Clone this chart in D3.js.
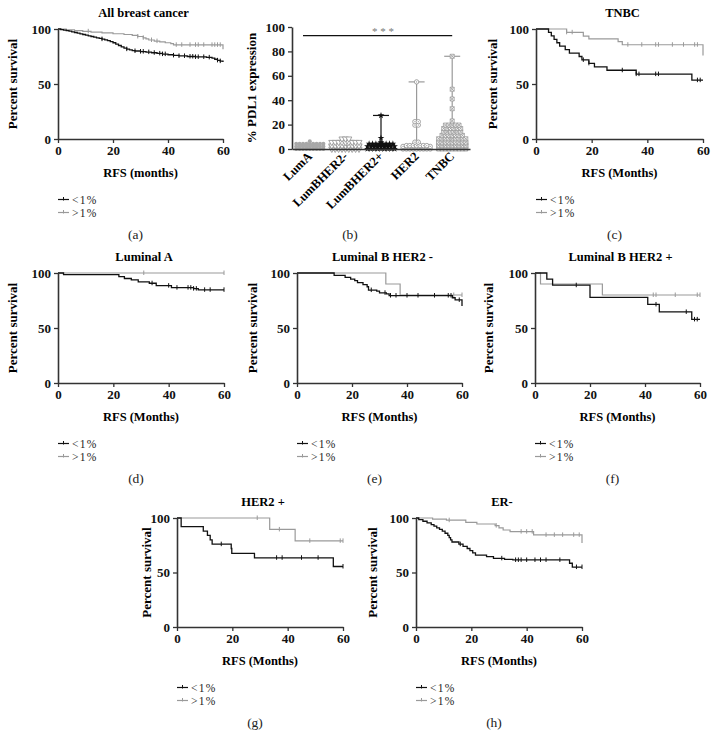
<!DOCTYPE html>
<html><head><meta charset="utf-8">
<script src="https://cdn.jsdelivr.net/npm/d3@7"></script>
<style>
body{margin:0;background:#fff}
svg{display:block}
text{font-family:"Liberation Serif","Times New Roman",serif}
</style>
</head><body>
<svg id="c" width="716" height="750"></svg>
<script>
// ---------------- DATA ----------------
const kmTicksX = [0, 20, 40, 60];
const kmTicksY = [0, 50, 100];
const legendLabels = ["<1%", ">1%"];
const panelLetters = ["(a)", "(b)", "(c)", "(d)", "(e)", "(f)", "(g)", "(h)"];
const kmTitles = ["All breast cancer", "TNBC", "Luminal A", "Luminal B HER2 -", "Luminal B HER2 +", "HER2 +", "ER-"];
const kmXLabels = ["RFS (months)", "RFS (Months)", "RFS (Months)", "RFS (Months)", "RFS (Months)", "RFS (Months)", "RFS (Months)"];

// Kaplan-Meier steps [month, % survival]
const allLow = [[0,100],[1,99.5],[2,99],[3,98.5],[4,98],[5,97.4],[6,96.8],[7,96.2],[8,95.6],[9,95],[10,94.4],[11,93.8],[12,93.2],[13,92.6],[14,92],[15,91.4],[16,90.8],[17,90.2],[18,89.5],[19,88.6],[20,87.5],[21,86.3],[22,85],[23,83.8],[24,82.7],[25,81.7],[26,81],[27,80.4],[28,80],[30,79.5],[32,79],[34,78.4],[36,77.8],[38,77.2],[40,76.6],[42,76],[44,75.5],[47,75],[50,74.6],[54,74.2],[56,73.5],[57,72.5],[58,71.5],[59,70.8],[60,70]];
const allHigh = [[0,100],[3,99.3],[6,98.6],[9,97.9],[12,97.2],[16,96.5],[20,95.7],[24,95],[27,94.2],[29,93.2],[31,92],[32,91],[33,90],[35,89],[37,88.3],[39,87.5],[41,86.7],[42,85.6],[60,81.5]];
const allLowCens = [16,25,28,30,31,33,35,37,38,39,42,44,46,48,49,50,51,53,55,58,59];
const allHighCens = [11,29,31,34,36,43,45,48,50,51,53,56,57,58,59];

const tnbcLow = [[0,100],[4.5,96.9],[5.5,93.8],[6.5,90.6],[7.5,87.5],[8.5,84.4],[10.5,81.3],[12,78.1],[15.5,75],[16.5,71.9],[19,68.8],[21,65.6],[25.5,62.5],[36,59],[56,53.5],[60,53.5]];
const tnbcHigh = [[0,100],[11,97],[17,93.5],[19,91],[29.5,88.5],[31,85.7],[60,76]];
const tnbcLowCens = [17,19,31,36,37,43,44,58,59];
const tnbcHighCens = [11,13,33,38,43,44,49,53,57,58];

const lumALow = [[0,100],[2,98.6],[22,96.7],[24,95],[26.5,93.7],[29,92],[33,90.7],[35.5,88.5],[41,86.7],[49,85.8],[50.7,84.7],[60,84.7]];
const lumAHigh = [[0,100],[60,100]];
const lumALowCens = [34,40,43,47,48,49,50,53,55,60];
const lumAHighCens = [31,60];

const lumBnLow = [[0,100],[13.5,97.8],[17.5,96],[19.5,94.5],[21,93],[22,91.3],[24,89.5],[25.5,87.5],[26,84.5],[29,83.5],[30,82],[32.5,81],[33.5,79.5],[56.5,77.5],[57.5,75.5],[60,70]];
const lumBnHigh = [[0,100],[32.3,90],[37.5,80],[60,80]];
const lumBnLowCens = [27,32,34,36,40,44,50,55,56,59];
const lumBnHighCens = [57,60];

const lumBpLow = [[0,100],[4.3,94.4],[6.4,88.9],[20,77.8],[41,71.4],[45.2,64.6],[57,57.8],[60,57.8]];
const lumBpHigh = [[0,100],[2,90],[24.5,80],[60,80]];
const lumBpLowCens = [15,44,55,58,59];
const lumBpHighCens = [43,44,51,59,60];

const her2Low = [[0,100],[1.5,92],[9.5,88],[11,84],[12,80],[12.7,76],[19.6,72],[19.8,67.5],[28,63.5],[56.5,55.5],[60,55.5]];
const her2High = [[0,100],[33.5,89.5],[42.7,79],[60,79]];
const her2LowCens = [16,36,38,45,51,60];
const her2HighCens = [29,37,48,59,60];

const erLow = [[0,100],[1,98.5],[2.5,97],[4,95.5],[5.5,94],[6.5,92.5],[7.5,91],[8.5,89.5],[9.5,88],[10.5,86],[11.5,84],[12,82],[12.5,80],[13,78],[15.5,76],[17,74],[18.5,72],[19.5,70],[20.5,68],[21.5,66],[25.5,64.5],[28,63],[32,62],[35,61.5],[55.5,58.5],[56.5,55],[60,55]];
const erHigh = [[0,100],[6,99],[11,98],[18,96],[22,94.5],[28.6,93],[30,91],[31.5,89],[34,87.5],[42.5,84.5],[60,77]];
const erLowCens = [16,31,36,37,38,40,43,45,47,52,58,60];
const erHighCens = [12,29,38,40,42,47,50,53,57,59];

// PDL1 expression (%) per subtype
const pdlCategories = ["LumA", "LumBHER2-", "LumBHER2+", "HER2", "TNBC"];
const pdlTicks = [0, 20, 40, 60, 80, 100];
const pdlLumA = [0,0,0,0,0,0,0,0,0,0,0,0,0,0,0,0,0,0,0,0,1,1,1,1,1,1,1,1,2,2,2,2,2,2];
const pdlLumBn = [0,0,0,0,0,0,0,0,0,0,0,0,0,0,1,1,1,1,1,1,1,2,2,2,2,2,3,3,3,3,4,4,5,5,5,5,6,6,6,6,6,7,7,7];
const pdlLumBp = [0,0,0,0,0,0,0,0,0,0,0,0,0,0,0,0,0,0,1,1,1,1,1,1,1,1,2,2,2,2,2,4,5.5,9,27.5];
const pdlHer2 = [0,0,0,0,0,0,0,0,0,0,0,0,0,0,1,1,1,1,1,1,2,2,2,2,3,3,4,6.5,6.5,20,20,22,22,55];
const pdlTnbc = [0,0,0,0,0,0,0,0,0,0,0,0,0,0,0,0,1,1,1,1,1,1,1,1,2,2,2,2,2,2,2,3,3,3,3,3,3,4,4,4,4,4,5,5,5,5,5,6,6,6,6,7,7,7,7,8,8,8,9,9,9,10,10,10,11,11,12,12,13,13,14,14,15,15,16,16,17,17,18,18,19,19,19,20,20,23,33,41,49,76];
const pdlSignif = 93;

// ---------------- LAYOUT ----------------
const svg = d3.select("#c");
const BLACK = "#111", GRAY = "#9a9a9a", AXIS = "#333";

const kmPanels = [
  {low: allLow, high: allHigh, lowC: allLowCens, highC: allHighCens, x0: 58, x1: 223, yt: 29, yb: 139, ti: 0, letter: 0, ylx: 13},
  {low: tnbcLow, high: tnbcHigh, lowC: tnbcLowCens, highC: tnbcHighCens, x0: 536, x1: 703, yt: 29, yb: 139, ti: 1, letter: 2, ylx: 493},
  {low: lumALow, high: lumAHigh, lowC: lumALowCens, highC: lumAHighCens, x0: 58, x1: 224, yt: 273, yb: 383, ti: 2, letter: 3, ylx: 13},
  {low: lumBnLow, high: lumBnHigh, lowC: lumBnLowCens, highC: lumBnHighCens, x0: 297, x1: 462, yt: 273, yb: 383, ti: 3, letter: 4, ylx: 253},
  {low: lumBpLow, high: lumBpHigh, lowC: lumBpLowCens, highC: lumBpHighCens, x0: 535, x1: 700, yt: 273, yb: 383, ti: 4, letter: 5, ylx: 489},
  {low: her2Low, high: her2High, lowC: her2LowCens, highC: her2HighCens, x0: 177, x1: 343, yt: 518, yb: 627, ti: 5, letter: 6, ylx: 147},
  {low: erLow, high: erHigh, lowC: erLowCens, highC: erHighCens, x0: 416, x1: 582, yt: 518, yb: 627, ti: 6, letter: 7, ylx: 373}
];

function styleAxis(g) {
  g.select(".domain").attr("stroke", AXIS).attr("stroke-width", 1.6);
  g.selectAll(".tick line").attr("stroke", AXIS).attr("stroke-width", 1.3);
  g.selectAll(".tick text").attr("fill", "#111").attr("font-size", 13).attr("font-weight", "bold")
    .attr("font-family", '"Liberation Serif","Times New Roman",serif');
}

function valueAt(steps, t) {
  let v = steps[0][1];
  for (const s of steps) { if (s[0] <= t) v = s[1]; }
  return v;
}

kmPanels.forEach(p => {
  const g = svg.append("g");
  const x = d3.scaleLinear().domain([0, 60]).range([p.x0, p.x1]);
  const y = d3.scaleLinear().domain([0, 100]).range([p.yb, p.yt]);

  g.append("g").attr("transform", `translate(0,${p.yb})`)
    .call(d3.axisBottom(x).tickValues(kmTicksX).tickSize(4).tickSizeOuter(0).tickPadding(3))
    .call(styleAxis);
  g.append("g").attr("transform", `translate(${p.x0},0)`)
    .call(d3.axisLeft(y).tickValues(kmTicksY).tickSize(4).tickSizeOuter(0).tickPadding(3))
    .call(styleAxis);

  const line = d3.line().x(d => x(d[0])).y(d => y(d[1])).curve(d3.curveStepAfter);
  [[p.high, p.highC, GRAY, 1.2], [p.low, p.lowC, BLACK, 1.3]].forEach(([steps, cens, col, w]) => {
    g.append("path").attr("d", line(steps)).attr("fill", "none").attr("stroke", col).attr("stroke-width", w);
    g.selectAll(null).data(cens).enter().append("line")
      .attr("x1", d => x(d)).attr("x2", d => x(d))
      .attr("y1", d => y(valueAt(steps, d)) - 2.5).attr("y2", d => y(valueAt(steps, d)) + 2)
      .attr("stroke", col).attr("stroke-width", 1);
  });

  const cx = (p.x0 + p.x1) / 2;
  g.append("text").attr("x", cx + 3).attr("y", p.yt - 12).attr("text-anchor", "middle")
    .attr("font-weight", "bold").attr("font-size", 12.5).text(kmTitles[p.ti]);
  g.append("text").attr("x", cx).attr("y", p.yb + 38).attr("text-anchor", "middle")
    .attr("font-weight", "bold").attr("font-size", 12.5).text(kmXLabels[p.ti]);
  g.append("text").attr("transform", `translate(${p.ylx + 4},${(p.yt + p.yb) / 2}) rotate(-90)`)
    .attr("text-anchor", "middle").attr("font-weight", "bold").attr("font-size", 13).text("Percent survival");

  // legend
  [[BLACK, legendLabels[0], 60.5], [GRAY, legendLabels[1], 73.5]].forEach(([col, lab, dy]) => {
    const ly = p.yb + dy;
    g.append("line").attr("x1", p.x0).attr("x2", p.x0 + 11).attr("y1", ly).attr("y2", ly)
      .attr("stroke", col).attr("stroke-width", 1.2);
    g.append("line").attr("x1", p.x0 + 5.5).attr("x2", p.x0 + 5.5).attr("y1", ly - 2.5).attr("y2", ly + 1)
      .attr("stroke", col).attr("stroke-width", 1);
    g.append("text").attr("x", p.x0 + 14).attr("y", ly + 4).attr("font-size", 11.5)
      .attr("letter-spacing", 1.3).attr("fill", "#222").text(lab);
  });

  g.append("text").attr("x", cx - 5).attr("y", p.yb + 100).attr("text-anchor", "middle")
    .attr("font-size", 13.5).attr("fill", "#222").text(panelLetters[p.letter]);
});

// ---------------- PANEL (b) ----------------
(function () {
  const g = svg.append("g");
  const x0 = 292, x1 = 470, yt = 27, yb = 149;
  const x = d3.scalePoint().domain(pdlCategories).range([x0, x1]).padding(0.5);
  const y = d3.scaleLinear().domain([0, 100]).range([yb, yt]);

  const series = [pdlLumA, pdlLumBn, pdlLumBp, pdlHer2, pdlTnbc];
  const cols = ["#a8a8a8", "#9a9a9a", BLACK, "#9a9a9a", "#9a9a9a"];

  // range whiskers and caps
  series.forEach((vals, i) => {
    const cx = x(pdlCategories[i]);
    const mx = d3.max(vals), md = d3.median(vals);
    g.append("line").attr("x1", cx).attr("x2", cx).attr("y1", y(0)).attr("y2", y(mx))
      .attr("stroke", cols[i]).attr("stroke-width", 1.2);
    g.append("line").attr("x1", cx - 8).attr("x2", cx + 8).attr("y1", y(mx)).attr("y2", y(mx))
      .attr("stroke", cols[i]).attr("stroke-width", 1.2);
    g.append("line").attr("x1", cx - 13).attr("x2", cx + 13).attr("y1", y(md)).attr("y2", y(md))
      .attr("stroke", cols[i]).attr("stroke-width", 1.2);
  });

  // points: dot-plot layout (values binned, spread horizontally)
  const sym = [
    (s, cx, cy) => s.append("circle").attr("cx", cx).attr("cy", cy).attr("r", 2).attr("fill", "#a8a8a8"),
    (s, cx, cy) => s.append("path").attr("d", d3.symbol(d3.symbolTriangle, 16)())
      .attr("transform", `translate(${cx},${cy}) rotate(180)`).attr("fill", "#fff").attr("stroke", "#9a9a9a").attr("stroke-width", 0.9),
    (s, cx, cy) => s.append("path").attr("d", d3.symbol(d3.symbolStar, 14)())
      .attr("transform", `translate(${cx},${cy})`).attr("fill", BLACK),
    (s, cx, cy) => { s.append("circle").attr("cx", cx).attr("cy", cy).attr("r", 2.2).attr("fill", "#fff").attr("stroke", "#9a9a9a").attr("stroke-width", 0.9);
                     s.append("circle").attr("cx", cx).attr("cy", cy).attr("r", 0.6).attr("fill", "#9a9a9a"); },
    (s, cx, cy) => s.append("path").attr("d", `M${cx-2},${cy-2}h4v4h-4zM${cx-2},${cy-2}l4,4M${cx+2},${cy-2}l-4,4`)
      .attr("fill", "#fff").attr("stroke", "#9a9a9a").attr("stroke-width", 0.8)
  ];
  const binVal = 2.8, sp = 3.4, maxRow = 9;
  series.forEach((vals, i) => {
    const cx = x(pdlCategories[i]);
    const bins = d3.groups(vals, v => Math.round(v / binVal)).sort((a, b) => a[0] - b[0]);
    bins.forEach(([k, arr]) => {
      const baseY = y(arr.length === 1 ? arr[0] : k * binVal);
      for (let r = 0; r * maxRow < arr.length; r++) {
        const n = Math.min(maxRow, arr.length - r * maxRow);
        for (let j = 0; j < n; j++) {
          sym[i](g, cx + (j - (n - 1) / 2) * sp, baseY - r * 2.6);
        }
      }
    });
  });

  g.append("g").attr("transform", `translate(0,${yb})`)
    .call(d3.axisBottom(x).tickSize(0).tickSizeOuter(0).tickFormat(""))
    .call(styleAxis);
  g.append("g").attr("transform", `translate(${x0},0)`)
    .call(d3.axisLeft(y).tickValues(pdlTicks).tickSize(4).tickSizeOuter(0).tickPadding(3))
    .call(styleAxis);

  pdlCategories.forEach(c => {
    g.append("text").attr("transform", `translate(${x(c) + 3},${yb + 8}) rotate(-45)`)
      .attr("text-anchor", "end").attr("font-weight", "bold").attr("font-size", 12.5).text(c);
  });

  g.append("line").attr("x1", 303).attr("x2", x(pdlCategories[4])).attr("y1", y(pdlSignif)).attr("y2", y(pdlSignif))
    .attr("stroke", BLACK).attr("stroke-width", 1.2);
  g.append("text").attr("x", 383).attr("y", y(pdlSignif) - 1).attr("text-anchor", "middle")
    .attr("font-size", 11).attr("fill", "#777").text("* * *");

  g.append("text").attr("transform", `translate(256,${(yt + yb) / 2}) rotate(-90)`)
    .attr("text-anchor", "middle").attr("font-weight", "bold").attr("font-size", 13).text("% PDL1 expression");
  g.append("text").attr("x", 350).attr("y", 239).attr("text-anchor", "middle")
    .attr("font-size", 13.5).attr("fill", "#222").text(panelLetters[1]);
})();
</script>
</body></html>
